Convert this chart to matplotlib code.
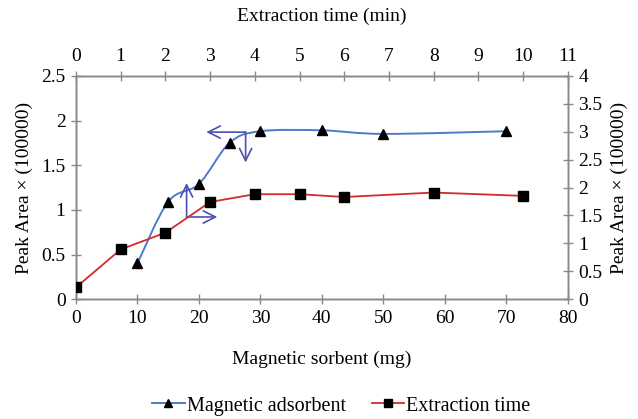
import numpy as np
import matplotlib.pyplot as plt
from matplotlib.path import Path
from matplotlib.patches import PathPatch

plt.rcParams['font.family'] = ['Liberation Serif', 'DejaVu Serif']

# magnetic adsorbent series (bottom / left axes)
sorbent_mg = [10, 15, 20, 25, 30, 40, 50, 70]
sorbent_area = [0.40, 1.09, 1.29, 1.75, 1.88, 1.89, 1.85, 1.88]

# extraction time series (top / right axes)
time_min = [0, 1, 2, 3, 4, 5, 6, 8, 10]
time_area = [0.21, 0.89, 1.19, 1.74, 1.88, 1.88, 1.83, 1.91, 1.85]

# arrows (start, end) in bottom/left axes units
arrows = [((27.6, 1.87), (21.2, 1.87)),
          ((27.6, 1.87), (27.6, 1.53)),
          ((18.0, 0.92), (18.0, 1.30)),
          ((18.0, 0.92), (23.0, 0.92))]

blue = '#4a7cc8'
red = '#d42a2a'
grey = '#8a8a8a'
arrow_col = '#4f4fb0'


def smooth_path(xs, ys):
    # excel-like smoothed line: cubic bezier through every point
    p = np.column_stack([xs, ys]).astype(float)
    verts = [p[0]]
    codes = [Path.MOVETO]
    n = len(p)
    for i in range(n - 1):
        p0 = p[i - 1] if i > 0 else p[i]
        p3 = p[i + 2] if i + 2 < n else p[i + 1]
        c1 = p[i] + (p[i + 1] - p0) / 6.0
        c2 = p[i + 1] - (p3 - p[i]) / 6.0
        verts += [c1, c2, p[i + 1]]
        codes += [Path.CURVE4] * 3
    return Path(verts, codes)


fig = plt.figure(figsize=(6.38, 4.19), dpi=100)
ax = fig.add_axes([0.119, 0.286, 0.771, 0.533])
ax2 = ax.twinx()
ax3 = ax2.twiny()

fs = 14

ax.add_patch(PathPatch(smooth_path(sorbent_mg, sorbent_area), fill=False,
                       edgecolor=blue, lw=1.4, zorder=3))
ax.plot(sorbent_mg, sorbent_area, ls='none', marker='^', color='black',
        ms=7, zorder=4)

ax3.plot(time_min, time_area, color=red, lw=1.3, marker='s', ms=7,
         mfc='black', mec='black', zorder=4)

for start, end in arrows:
    ax.annotate('', xy=end, xytext=start,
                arrowprops=dict(arrowstyle='->', color=arrow_col, lw=1.2,
                                mutation_scale=22, shrinkA=0, shrinkB=0))

ax.set_xlim(0, 80)
ax.set_ylim(0, 2.5)
ax.set_xticks(np.arange(0, 81, 10))
ax.set_yticks(np.arange(0, 2.51, 0.5))
ax.set_yticklabels(['0', '0.5', '1', '1.5', '2', '2.5'])
ax2.set_ylim(0, 4)
ax2.set_yticks(np.arange(0, 4.01, 0.5))
ax2.set_yticklabels(['0', '0.5', '1', '1.5', '2', '2.5', '3', '3.5', '4'])
ax3.set_xlim(0, 11)
ax3.set_xticks(range(0, 12))

for a in (ax, ax2, ax3):
    for s in a.spines.values():
        s.set_color(grey)
        s.set_linewidth(1.0)
    a.tick_params(direction='inout', length=7, width=1.0, color=grey,
                  labelsize=fs, pad=4)

ax.set_xlabel('Magnetic sorbent (mg)', fontsize=fs, labelpad=17)
ax.set_ylabel('Peak Area × (100000)', fontsize=fs, labelpad=6)
ax2.set_ylabel('Peak Area × (100000)', fontsize=fs, labelpad=6)
ax3.set_xlabel('Extraction time (min)', fontsize=fs, labelpad=20)

h1, = ax.plot([], [], color=blue, lw=1.4, marker='^', mfc='black',
              mec='black', ms=6)
h2, = ax.plot([], [], color=red, lw=1.3, marker='s', mfc='black',
              mec='black', ms=6)
fig.legend([h1, h2], ['Magnetic adsorbent', 'Extraction time'],
           loc='lower center', bbox_to_anchor=(0.535, -0.035), ncol=2,
           frameon=False, fontsize=fs + 0.5, handlelength=1.6,
           handletextpad=0.1, columnspacing=1.3)

fig.savefig('out.png', dpi=100)
